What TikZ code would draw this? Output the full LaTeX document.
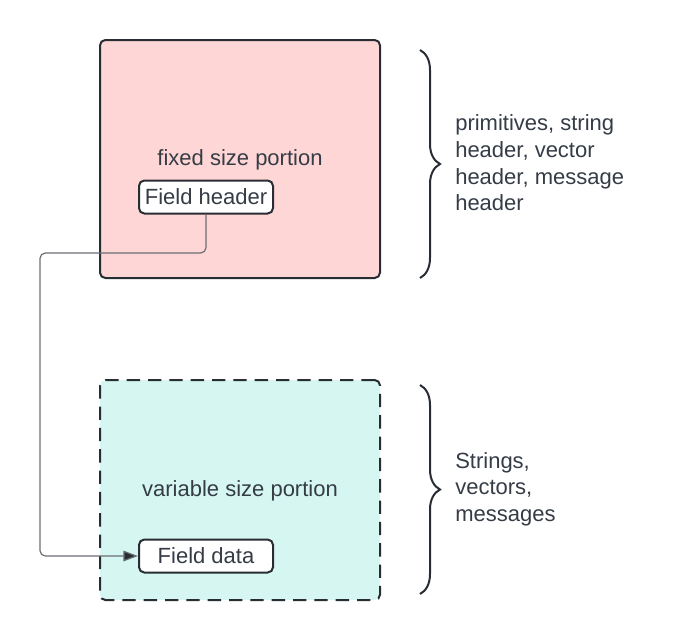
\documentclass[tikz,border=0pt]{standalone}
\usepackage{fontspec}
\setmainfont{Liberation Sans}
\usetikzlibrary{arrows.meta,decorations.pathreplacing}
\definecolor{inkcol}{HTML}{282C33}
\definecolor{textcol}{HTML}{353C46}
\definecolor{linecol}{HTML}{6B6F75}
\definecolor{fixedfill}{HTML}{FFD6D6}
\definecolor{varfill}{HTML}{D6F7F1}
\tikzset{
  portion/.style={draw=inkcol, line width=1.5pt, rounded corners=4pt,
    minimum width=210pt, inner sep=0pt},
  field/.style={draw=inkcol, line width=1.5pt, rounded corners=4pt, fill=white,
    minimum width=100.5pt, minimum height=24.75pt, inner sep=0pt, text=textcol},
  label/.style={text=textcol, align=left, anchor=west, inner sep=0pt},
  bracket/.style={draw=inkcol, line width=1.5pt,
    decorate, decoration={brace, amplitude=15pt}},
}
\begin{document}
\begin{tikzpicture}[x=0.75pt, y=-0.75pt, font=\fontsize{16.5}{20}\selectfont]
      \useasboundingbox (0, 0) rectangle (680, 640);

      % the two portions of the message
      \node[portion, fill=fixedfill, minimum height=178.5pt] (fixed) at (240, 159) {};
      \node[portion, fill=varfill, minimum height=165pt, dash pattern=on 10pt off 6pt] (var) at (240, 490) {};

      \node[text=textcol] (fixedlbl) at (240, 160) {fixed size portion};
      \node[text=textcol] (varlbl) at (240, 491) {variable size portion};

      \node[field] (hdr) at (206, 197) {Field header};
      \node[field] (data) at (206, 556) {Field data};

      % header points to its data
      \coordinate (bend) at (40, 253);
      \draw[linecol, line width=0.9pt, rounded corners=4pt, -{Triangle[length=11pt, width=8pt, fill=inkcol]}]
        (hdr.south) |- (bend) |- (data.west);

      % braces and notes
      \coordinate (fixedtop) at (420, 50);
      \coordinate (fixedbot) at (420, 278);
      \coordinate (vartop) at (420, 385);
      \coordinate (varbot) at (420, 594);
      \draw[bracket] (fixedtop) -- (fixedbot);
      \draw[bracket] (vartop) -- (varbot);

      \node[label] (fixednote) at (455, 163) {primitives, string\\header, vector\\header, message\\header};
      \node[label] (varnote) at (455, 489) {Strings,\\vectors,\\messages};
    \end{tikzpicture}
\end{document}
